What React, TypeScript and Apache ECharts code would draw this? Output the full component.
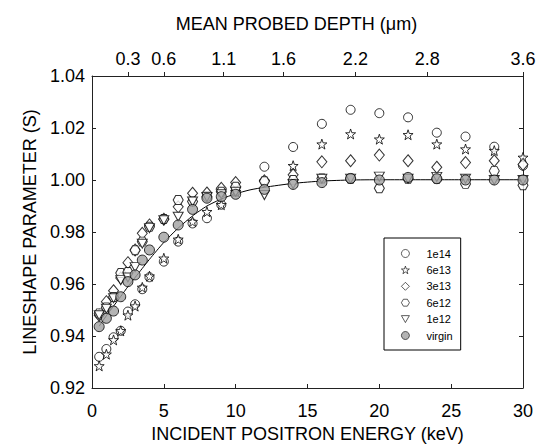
import React, { useEffect, useRef } from "react";
import * as echarts from "echarts";

const energies = [0.5, 1, 1.5, 2, 2.5, 3, 3.5, 4, 5, 6, 7, 8, 9, 10, 12, 14, 16, 18, 20, 22, 24, 26, 28, 30];
const s1e14 = [0.932, 0.935, 0.9395, 0.942, 0.9494, 0.9522, 0.958, 0.9626, 0.9686, 0.9763, 0.9833, 0.9853, 0.9905, 0.9955, 1.0051, 1.0127, 1.0216, 1.027, 1.0257, 1.0241, 1.0182, 1.0167, 1.0128, 1.0055];
const s6e13 = [0.9285, 0.933, 0.9385, 0.942, 0.948, 0.9515, 0.9587, 0.963, 0.9699, 0.9772, 0.984, 0.9878, 0.9905, 0.9955, 0.9995, 1.0055, 1.0138, 1.0177, 1.0157, 1.0174, 1.0138, 1.0119, 1.0113, 1.0087];
const s3e13 = [0.948, 0.9532, 0.9574, 0.9623, 0.9682, 0.9731, 0.9795, 0.9827, 0.9849, 0.9897, 0.9949, 0.995, 0.9968, 0.999, 0.9997, 1.002, 1.007, 1.0074, 1.0096, 1.0074, 1.0049, 1.0067, 1.0074, 1.006];
const s6e12 = [0.9487, 0.951, 0.955, 0.9642, 0.9646, 0.973, 0.9763, 0.982, 0.985, 0.9923, 0.9917, 0.9936, 0.9955, 0.9974, 0.9995, 1.0, 1.0006, 1.0005, 0.9968, 1.0005, 1.0005, 0.9985, 1.0035, 0.998];
const s1e12 = [0.948, 0.9505, 0.9545, 0.9615, 0.9625, 0.9665, 0.9755, 0.9815, 0.9845, 0.9859, 0.9917, 0.9935, 0.9945, 0.9955, 0.9942, 0.9985, 1.0005, 1.0005, 1.0013, 1.0005, 1.0012, 1.0005, 1.0, 1.0];
const sVirgin = [0.9436, 0.9468, 0.9496, 0.9551, 0.9609, 0.9635, 0.9692, 0.9731, 0.978, 0.9827, 0.9887, 0.993, 0.9936, 0.9945, 0.9964, 0.9983, 0.999, 1.0006, 1.0, 1.001, 1.0005, 1.0, 1.0, 1.0];

const fitE = [0.5, 1, 1.5, 2, 2.5, 3, 3.5, 4, 5, 6, 7, 8, 9, 10, 11, 12, 14, 16, 18, 20, 25, 30];
const fitS = [0.9438, 0.9478, 0.9515, 0.9552, 0.959, 0.9625, 0.966, 0.9695, 0.976, 0.9815, 0.9862, 0.99, 0.9927, 0.9947, 0.9962, 0.9972, 0.9987, 0.9996, 1.0, 1.0001, 1.0001, 1.0001];

const depthCats = Array.from({ length: 37 }, (_, i) => (i / 10).toFixed(1));
const depthLabels = ["0.3", "0.6", "1.1", "1.6", "2.2", "2.8", "3.6"];

const seriesNames = ["1e14", "6e13", "3e13", "6e12", "1e12", "virgin"];

const STAR = "path://M0,-10L2.35,-3.24L9.51,-3.09L3.8,1.24L5.88,8.09L0,4L-5.88,8.09L-3.8,1.24L-9.51,-3.09L-2.35,-3.24Z";
const HEX = "path://M-10,0L-5,-8.66L5,-8.66L10,0L5,8.66L-5,8.66Z";
const TRI = "path://M-10,-8.66L10,-8.66L0,8.66Z";

const FONT = "Liberation Sans";

export default function App() {
  const ref = useRef<HTMLDivElement>(null);
  useEffect(() => {
    if (!ref.current) return;
    const chart = echarts.init(ref.current, undefined, { renderer: "svg" });
    const pts = (vals: number[]) => energies.map((e, i) => [e, vals[i]]);
    const open = { color: "#ffffff", borderColor: "#000000", borderWidth: 1 };
    const symbols: Record<string, any> = {
      "1e14": { symbol: "circle", size: 9 },
      "6e13": { symbol: STAR, size: 10 },
      "3e13": { symbol: "diamond", size: [10, 12] },
      "6e12": { symbol: HEX, size: [10, 9] },
      "1e12": { symbol: TRI, size: [10, 9] },
      virgin: { symbol: "circle", size: 10 },
    };
    const dataMap: Record<string, number[]> = {
      "1e14": s1e14,
      "6e13": s6e13,
      "3e13": s3e13,
      "6e12": s6e12,
      "1e12": s1e12,
      virgin: sVirgin,
    };
    const axisLine = { show: true, lineStyle: { color: "#222", width: 1 } };
    chart.setOption({
      animation: false,
      backgroundColor: "#ffffff",
      textStyle: { fontFamily: FONT },
      grid: { left: 92, right: 21, top: 76, bottom: 60, containLabel: false },
      legend: {
        orient: "vertical",
        left: 384,
        top: 238,
        padding: [10, 8, 9, 17],
        itemGap: 5.4,
        itemWidth: 8,
        itemHeight: 8,
        symbolKeepAspect: true,
        borderColor: "#000",
        borderWidth: 1,
        itemStyle: { borderWidth: 0.8 },
        textStyle: { fontFamily: FONT, fontSize: 11, color: "#000", lineHeight: 10, padding: [0, 0, 0, 12] },
        data: seriesNames.map((n) => ({ name: n, icon: symbols[n].symbol })),
      },
      xAxis: [
        {
          type: "value",
          position: "bottom",
          min: 0,
          max: 30,
          interval: 5,
          axisLine,
          axisTick: { show: true, inside: true, length: 4, lineStyle: { color: "#222" } },
          axisLabel: { fontSize: 18, color: "#000", margin: 14, fontFamily: FONT },
          splitLine: { show: false },
          name: "INCIDENT POSITRON ENERGY (keV)",
          nameLocation: "middle",
          nameGap: 35,
          nameTextStyle: { fontSize: 18, color: "#000", fontFamily: FONT },
        },
        {
          type: "category",
          position: "top",
          data: depthCats,
          boundaryGap: false,
          axisLine,
          axisTick: {
            show: true,
            inside: false,
            length: 4,
            lineStyle: { color: "#222" },
            interval: (i: number, v: string) => depthLabels.includes(v),
          },
          axisLabel: {
            fontSize: 18,
            color: "#000",
            margin: 8,
            fontFamily: FONT,
            interval: (i: number, v: string) => depthLabels.includes(v),
          },
          splitLine: { show: false },
          name: "MEAN PROBED DEPTH (μm)",
          nameLocation: "middle",
          nameGap: 43,
          nameTextStyle: { fontSize: 18, color: "#000", fontFamily: FONT, padding: [0, 22, 0, 0] },
        },
      ],
      yAxis: [
        {
          type: "value",
          position: "left",
          min: 0.92,
          max: 1.04,
          interval: 0.02,
          axisLine,
          axisTick: { show: true, inside: true, length: 4, lineStyle: { color: "#222" } },
          axisLabel: {
            fontSize: 18,
            color: "#000",
            margin: 7,
            fontFamily: FONT,
            formatter: (v: number) => v.toFixed(2),
          },
          splitLine: { show: false },
          name: "LINESHAPE PARAMETER (S)",
          nameLocation: "middle",
          nameGap: 45,
          nameTextStyle: { fontSize: 18, color: "#000", fontFamily: FONT },
        },
        {
          type: "value",
          position: "right",
          min: 0.92,
          max: 1.04,
          interval: 0.02,
          axisLine,
          axisTick: { show: true, inside: true, length: 4, lineStyle: { color: "#222" } },
          axisLabel: { show: false },
          splitLine: { show: false },
        },
      ],
      series: [
        {
          name: "fit",
          type: "line",
          data: fitE.map((e, i) => [e, fitS[i]]),
          showSymbol: false,
          symbol: "none",
          smooth: 0.2,
          lineStyle: { color: "#000", width: 1 },
          z: 1,
          silent: true,
        },
        ...seriesNames.map((n, k) => ({
          name: n,
          type: "scatter",
          data: pts(dataMap[n]),
          symbol: symbols[n].symbol,
          symbolSize: symbols[n].size,
          symbolKeepAspect: false,
          itemStyle: n === "virgin" ? { color: "#a0a0a0", borderColor: "#000", borderWidth: 1 } : open,
          z: 2 + k,
        })),
      ],
    });
    return () => chart.dispose();
  }, []);
  return (
    <div
      ref={ref}
      style={{ position: "absolute", left: 0, top: 0, width: 544, height: 448 }}
    />
  );
}
